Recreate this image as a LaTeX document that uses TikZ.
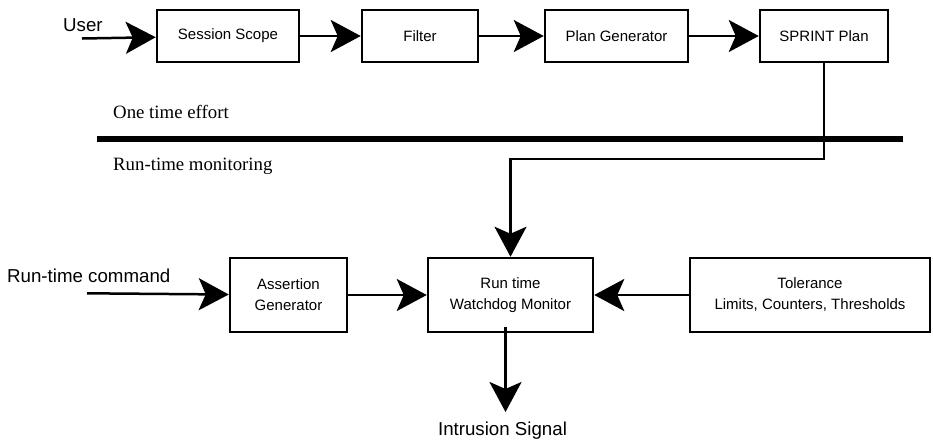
\documentclass[tikz,border=0pt]{standalone}
\usepackage{fontspec}
\setmainfont{Liberation Serif}
\setsansfont{Liberation Sans}
\usetikzlibrary{arrows.meta}
\tikzset{
  box/.style={draw, line width=2.5pt, inner sep=0pt, minimum height=52pt, align=center, font=\sffamily\fontsize{15}{21}\selectfont},
  tallbox/.style={box, minimum height=74pt},
  arr/.style={line width=2.5pt, -{Stealth[length=30pt,width=32pt,inset=7pt]}},
  outlabel/.style={inner sep=0pt, font=\sffamily\fontsize{18.7}{22}\selectfont},
  phaselabel/.style={inner sep=0pt, font=\rmfamily\fontsize{18.8}{22}\selectfont},
  divider/.style={line width=6pt}
}
\begin{document}
\begin{tikzpicture}[x=1pt,y=-1pt]
\useasboundingbox (0,0) rectangle (933,440);
% top row
\node[box, minimum width=142pt] (ss) at (228,36) {Session Scope};
\node[box, minimum width=116pt] (fi) at (420,36) {Filter};
\node[box, minimum width=143pt] (pg) at (616.5,36) {Plan Generator};
\node[box, minimum width=128pt] (sp) at (824,36) {SPRINT Plan};
\node[outlabel, anchor=base west] (user) at (63,31) {User};
\coordinate (u0) at (82,38.5);
\draw[arr] (u0) -- (ss);
\draw[arr] (ss) -- (fi);
\draw[arr] (fi) -- (pg);
\draw[arr] (pg) -- (sp);
% divider
\node[phaselabel, anchor=base west] (ote) at (113,118) {One time effort};
\node[phaselabel, anchor=base west] (rtm) at (113,170) {Run-time monitoring};
\coordinate (dl) at (97,139);
\coordinate (dr) at (903,139);
\draw[divider] (dl) -- (dr);
% bottom row
\node[tallbox, minimum width=117pt] (ag) at (288.5,295) {Assertion\\Generator};
\node[tallbox, minimum width=165pt] (rw) at (510.5,295) {Run time\\Watchdog Monitor};
\node[tallbox, minimum width=240pt] (tol) at (810,295) {Tolerance\\Limits, Counters, Thresholds};
\node[outlabel, anchor=base west] (cmd) at (7,282) {Run-time command};
\coordinate (c0) at (87,293.3);
\draw[arr] (c0) -- (ag);
\draw[arr] (ag) -- (rw);
\draw[arr] (tol) -- (rw);
\coordinate (k) at (510.5,159);
\draw[arr] (sp.south) |- (k) -- (rw.north);
\node[outlabel, anchor=base] (sig) at (502.5,435) {Intrusion Signal};
\coordinate (d0) at (505.5,327);
\coordinate (d1) at (505.5,412);
\draw[arr] (d0) -- (d1);
\end{tikzpicture}
\end{document}
